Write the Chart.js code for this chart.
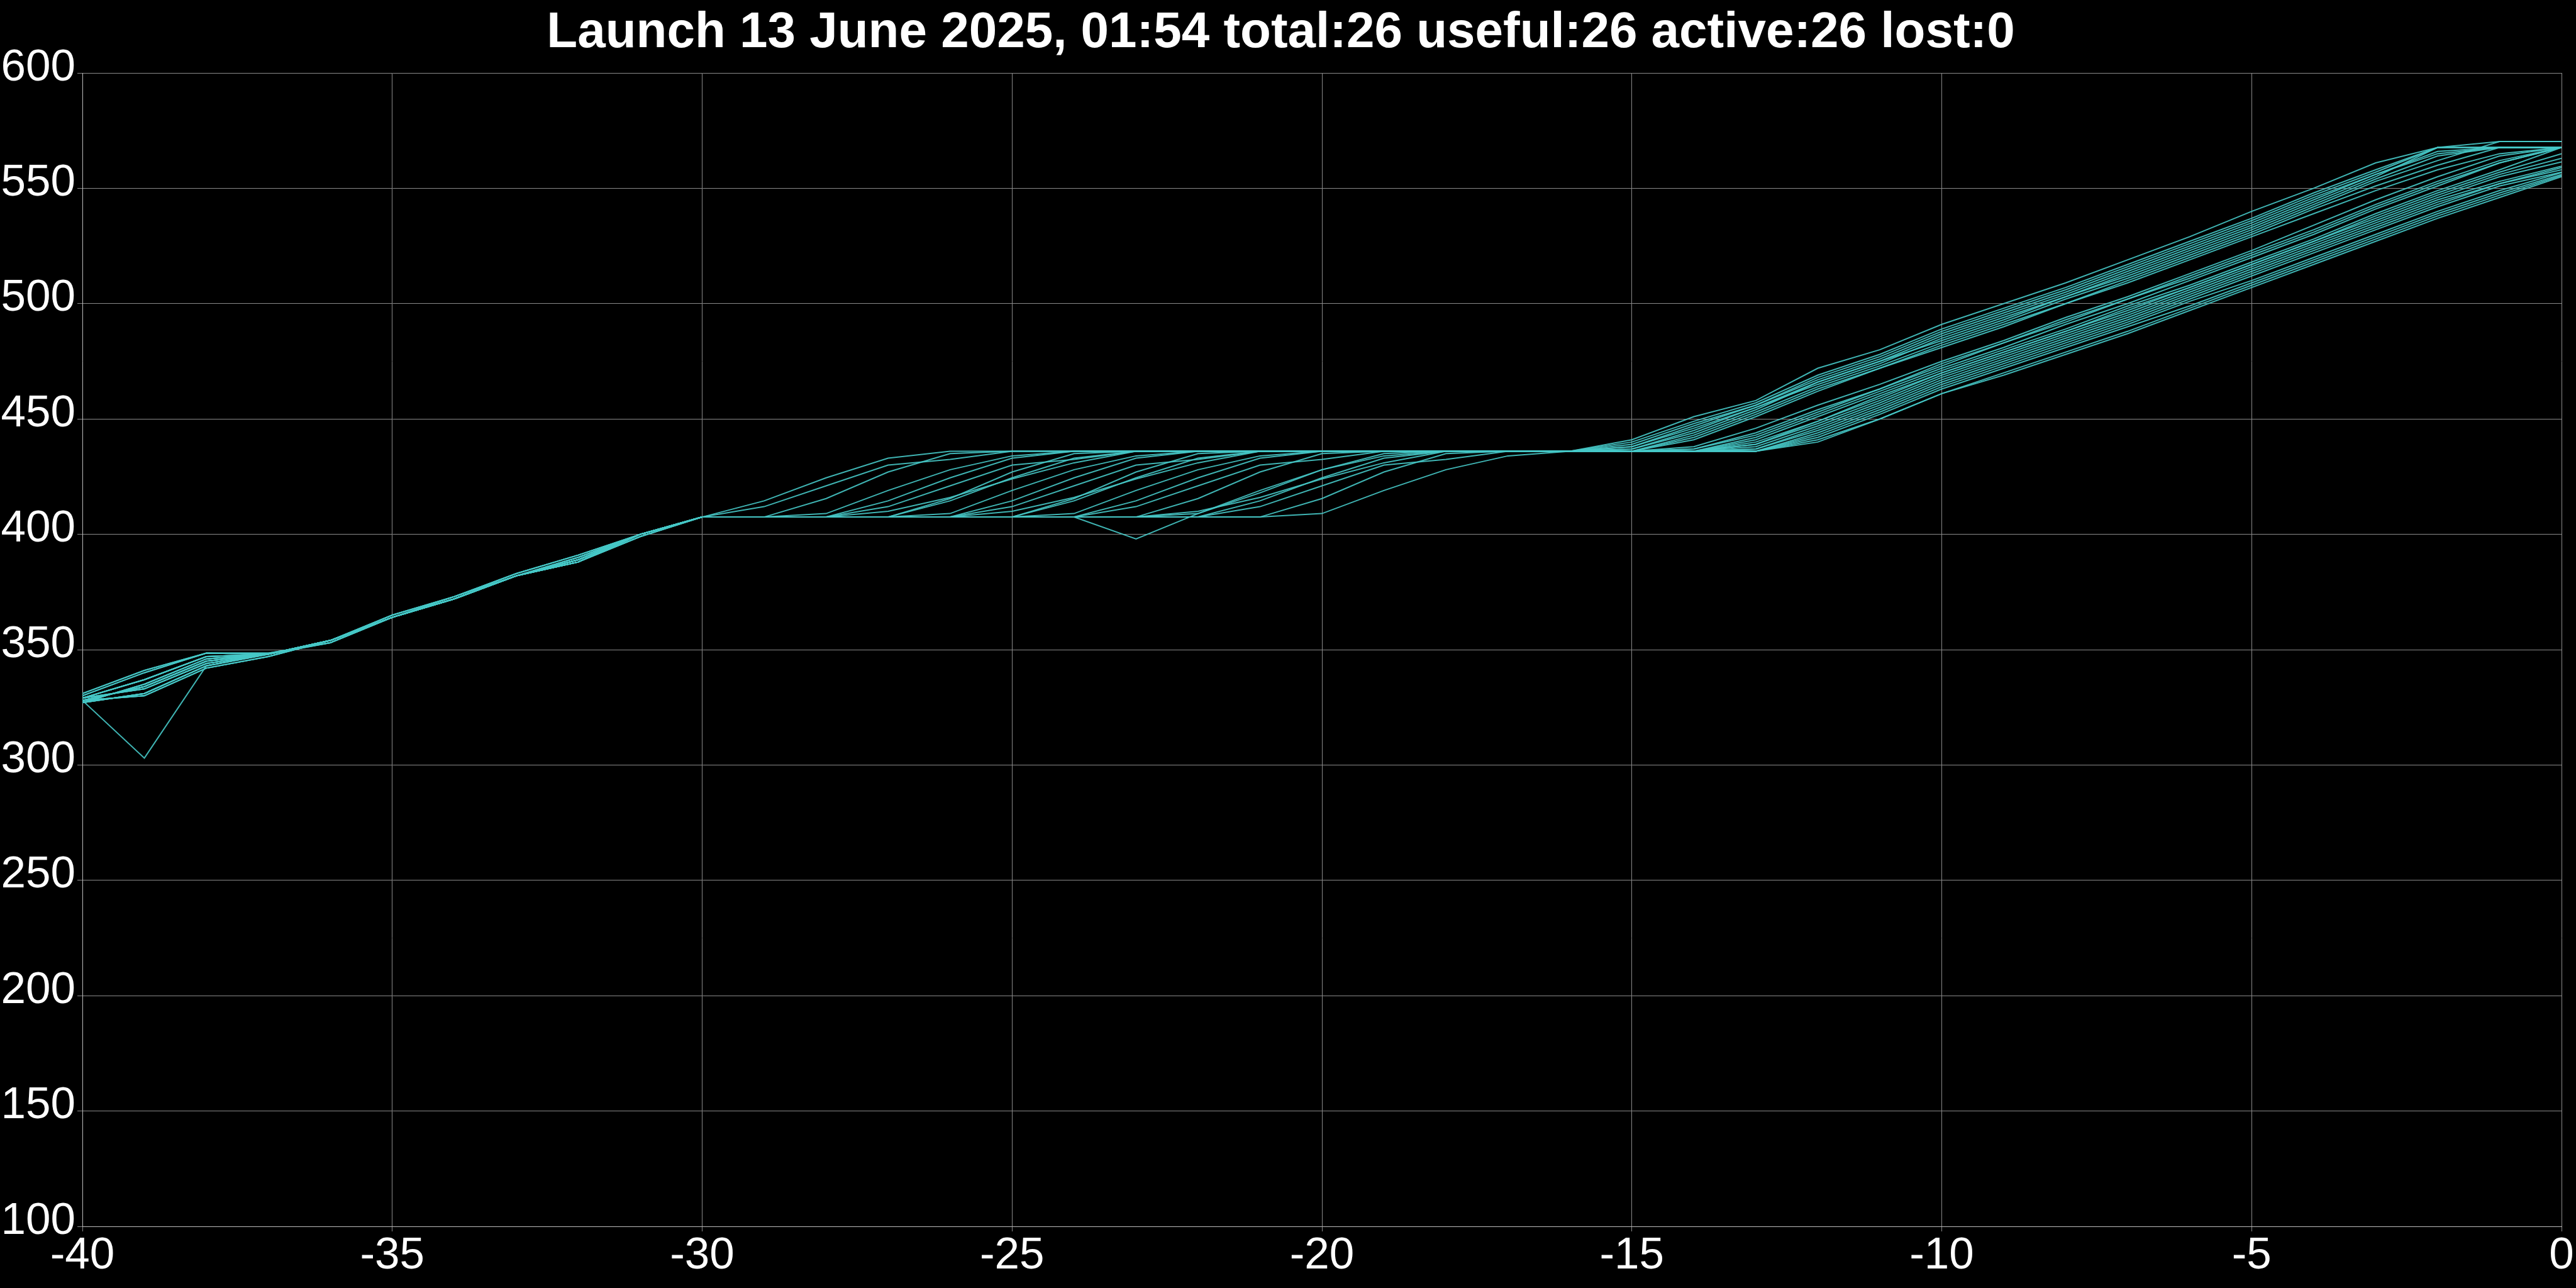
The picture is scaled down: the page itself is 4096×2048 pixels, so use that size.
<!DOCTYPE html>
<html>
<head>
<meta charset="utf-8">
<title>Launch 13 June 2025</title>
<script src="https://cdn.jsdelivr.net/npm/chart.js@4/dist/chart.umd.min.js"></script>
<style>
    html, body { margin: 0; padding: 0; background: #000; }
    canvas { display: block; }
</style>
</head>
<body>
<canvas id="graph" width="4096" height="2048"></canvas>
<script>
"use strict"

const titleText = "Launch 13 June 2025, 01:54 total:26 useful:26 active:26 lost:0";

// seconds before launch
const seconds = [-40, -39, -38, -37, -36, -35, -34, -33, -32, -31, -30, -29, -28, -27, -26, -25, -24, -23, -22, -21,
    -20, -19, -18, -17, -16, -15, -14, -13, -12, -11, -10, -9, -8, -7, -6, -5, -4, -3, -2, -1, 0];

// one track per probe
const track01 = [328, 334, 345, 348, 354, 364, 372, 382, 389, 400,
    407.5, 414.5, 424.5, 433, 436, 436, 436, 436, 436, 436, 436, 436, 436, 436, 436,
    441, 451, 458, 472, 480, 491, 500, 509, 519, 529, 540, 550, 561, 567.7, 570.3, 570.3];
const track02 = [327, 331, 343, 348, 354, 364, 372, 382, 388, 400,
    407.5, 412, 421, 430, 432.5, 436, 436, 436, 436, 436, 436, 436, 436, 436, 436,
    440, 449, 457, 469, 478, 489, 498, 507, 517, 527, 537, 548, 558, 567.7, 567.7, 567.7];
const track03 = [330, 340, 348.5, 348, 353, 364, 373, 382, 389, 400,
    407.5, 407.5, 409, 419, 428, 434, 436, 436, 436, 436, 436, 436, 436, 436, 436,
    438, 447, 456, 467, 476, 487, 496, 505, 515, 525, 535, 546, 556, 565, 567.7, 567.7];
const track04 = [329, 337, 347, 348, 354, 364, 372, 382, 390, 400,
    407.5, 407.5, 415.5, 427, 435, 436, 436, 436, 436, 436, 436, 436, 436, 436, 436,
    437, 445, 455, 465, 474, 485, 494, 503, 513, 523, 533, 544, 555, 567.7, 567.7, 567.7];
const track05 = [331, 341, 348.5, 348.5, 353, 364, 372, 382, 389, 400,
    407.5, 407.5, 407.5, 414.5, 424.5, 433, 436, 436, 436, 436, 436, 436, 436, 436, 436,
    436, 443, 453, 464, 473, 483, 492, 502, 511, 521, 531, 542, 553, 562, 570.3, 570.3];
const track06 = [328, 330, 342, 347, 354, 364, 372, 382, 388, 399,
    407.5, 407.5, 407.5, 410, 416, 424, 431, 436, 436, 436, 436, 436, 436, 436, 436,
    436, 441, 451, 462, 472, 482, 491, 500, 510, 520, 530, 541, 551, 560, 567.7, 567.7];
const track07 = [327, 335, 346, 348, 354, 365, 373, 383, 391, 400,
    407.5, 407.5, 407.5, 412, 421, 430, 432.5, 436, 436, 436, 436, 436, 436, 436, 436,
    436, 442, 452, 463, 472, 481, 490, 500, 509, 519, 529, 539, 549, 558, 565, 567.7];
const track08 = [329, 333, 344, 348, 354, 364, 372, 382, 388, 400,
    407.5, 407.5, 407.5, 407.5, 415.5, 427, 435, 436, 436, 436, 436, 436, 436, 436, 436,
    437, 444, 454, 466, 475, 486, 495, 504, 514, 524, 534, 545, 556, 566, 567.7, 567.7];
const track09 = [328, 334, 345, 348, 354, 364, 372, 382, 389, 400,
    407.5, 407.5, 407.5, 407.5, 409, 419, 428, 434, 436, 436, 436, 436, 436, 436, 436,
    439, 448, 456, 468, 477, 488, 497, 506, 516, 526, 536, 547, 557, 567.7, 567.7, 567.7];
const track10 = [327, 331, 343, 348, 354, 364, 372, 382, 388, 400,
    407.5, 407.5, 407.5, 407.5, 414.5, 424.5, 433, 436, 436, 436, 436, 436, 436, 436, 436,
    438, 446, 455, 466, 475, 484, 493, 503, 512, 522, 532, 543, 554, 564, 567.7, 567.7];
const track11 = [328, 303, 343, 348, 354, 364, 372, 382, 389, 400,
    407.5, 407.5, 407.5, 407.5, 407.5, 412, 421, 430, 432.5, 436, 436, 436, 436, 436, 436,
    436, 438, 446, 456, 465, 475, 484, 494, 503, 513, 523, 534, 545, 555, 564, 567.7];
const track12 = [329, 337, 347, 348, 354, 364, 372, 382, 390, 400,
    407.5, 407.5, 407.5, 407.5, 407.5, 414.5, 424.5, 433, 436, 436, 436, 436, 436, 436, 436,
    436, 437, 444, 454, 463, 473, 483, 492, 502, 512, 522, 532, 543, 553, 562, 567.7];
const track13 = [330, 340, 348.5, 348, 353, 364, 373, 382, 389, 400,
    407.5, 407.5, 407.5, 407.5, 407.5, 410, 416, 424, 431, 436, 436, 436, 436, 436, 436,
    436, 436, 442, 452, 462, 472, 481, 491, 500, 510, 520, 530, 541, 551, 561, 567.7];
const track14 = [329, 333, 344, 348, 354, 364, 372, 382, 388, 400,
    407.5, 407.5, 407.5, 407.5, 407.5, 407.5, 415.5, 427, 435, 436, 436, 436, 436, 436, 436,
    436, 436, 441, 451, 461, 471, 480, 489, 499, 508, 518, 528, 539, 549, 558, 567.7];
const track15 = [328, 330, 342, 347, 354, 364, 372, 382, 388, 399,
    407.5, 407.5, 407.5, 407.5, 407.5, 407.5, 409, 419, 428, 434, 436, 436, 436, 436, 436,
    436, 436, 440, 449, 459, 470, 479, 488, 497, 507, 517, 527, 537, 547, 556, 563];
const track16 = [327, 335, 346, 348, 354, 365, 373, 383, 391, 400,
    407.5, 407.5, 407.5, 407.5, 407.5, 407.5, 414.5, 424.5, 433, 436, 436, 436, 436, 436, 436,
    436, 436, 439, 448, 458, 469, 478, 487, 496, 506, 516, 526, 536, 546, 555, 561.4];
const track17 = [328, 334, 345, 348, 354, 364, 372, 382, 389, 400,
    407.5, 407.5, 407.5, 407.5, 407.5, 407.5, 407.5, 398, 409, 418, 428, 435, 436, 436, 436,
    436, 436, 438, 447, 457, 468, 477, 486, 495, 505, 515, 525, 535, 545, 553, 559.6];
const track18 = [327, 331, 343, 348, 354, 364, 372, 382, 388, 400,
    407.5, 407.5, 407.5, 407.5, 407.5, 407.5, 407.5, 412, 421, 430, 432.5, 436, 436, 436, 436,
    436, 436, 437, 446, 456, 467, 476, 485, 494, 504, 514, 524, 534, 544, 552, 558];
const track19 = [329, 337, 347, 348, 354, 364, 372, 382, 390, 400,
    407.5, 407.5, 407.5, 407.5, 407.5, 407.5, 407.5, 414.5, 424.5, 433, 436, 436, 436, 436, 436,
    436, 436, 436, 444, 454, 465, 474, 483, 492, 502, 512, 522, 532, 542, 551, 557];
const track20 = [331, 341, 348.5, 348.5, 353, 364, 372, 382, 389, 400,
    407.5, 407.5, 407.5, 407.5, 407.5, 407.5, 407.5, 407.5, 410, 416, 424, 431, 436, 436, 436,
    436, 436, 436, 443, 453, 464, 473, 482, 491, 501, 510, 520, 530, 540, 549, 556.8];
const track21 = [329, 333, 344, 348, 354, 364, 372, 382, 388, 400,
    407.5, 407.5, 407.5, 407.5, 407.5, 407.5, 407.5, 407.5, 415.5, 427, 435, 436, 436, 436, 436,
    436, 436, 436, 442, 452, 463, 472, 481, 490, 499, 509, 519, 529, 539, 548, 556];
const track22 = [328, 330, 342, 347, 354, 364, 372, 382, 388, 399,
    407.5, 407.5, 407.5, 407.5, 407.5, 407.5, 407.5, 407.5, 409, 419, 428, 434, 436, 436, 436,
    436, 436, 436, 441, 450, 461, 470, 479, 488, 498, 508, 518, 528, 538, 547, 555.5];
const track23 = [328, 334, 345, 348, 354, 364, 372, 382, 389, 400,
    407.5, 407.5, 407.5, 407.5, 407.5, 407.5, 407.5, 407.5, 407.5, 414.5, 424.5, 433, 436, 436, 436,
    436, 436, 436, 440, 450, 461, 469, 478, 487, 497, 507, 517, 527, 537, 546, 555];
const track24 = [327, 331, 343, 348, 354, 364, 372, 382, 388, 400,
    407.5, 407.5, 407.5, 407.5, 407.5, 407.5, 407.5, 407.5, 407.5, 412, 421, 430, 432.5, 436, 436,
    436, 437, 443, 453, 463, 474, 483, 493, 502, 511, 521, 531, 542, 552, 561, 567.7];
const track25 = [327, 335, 346, 348, 354, 365, 373, 383, 391, 400,
    407.5, 407.5, 407.5, 407.5, 407.5, 407.5, 407.5, 407.5, 407.5, 407.5, 415.5, 427, 435, 436, 436,
    436, 436, 439, 449, 460, 470, 479, 488, 498, 507, 517, 527, 538, 548, 557, 565];
const track26 = [329, 337, 347, 348, 354, 364, 372, 382, 390, 400,
    407.5, 407.5, 407.5, 407.5, 407.5, 407.5, 407.5, 407.5, 407.5, 407.5, 409, 419, 428, 434, 436,
    436, 436, 437, 445, 455, 466, 475, 484, 493, 503, 513, 523, 533, 543, 552, 559];

const tracks = [track01, track02, track03, track04, track05, track06, track07, track08, track09, track10,
    track11, track12, track13, track14, track15, track16, track17, track18, track19, track20,
    track21, track22, track23, track24, track25, track26];

const fontFamily = "'Liberation Sans', Arial, Helvetica, sans-serif";
Chart.defaults.font.family = fontFamily;

let datasets = tracks.map(function (values, n) {
    return {
        label : "track " + (n + 1),
        data : values.map(function (v, i) { return { x : seconds[i], y : v }; }),
        borderColor : "rgba(70, 200, 198, 0.9)",
        borderWidth : 2,
        pointRadius : 0,
        tension : 0,
        fill : false
    };
});

new Chart(document.getElementById("graph"), {
    type : "line",
    data : { datasets : datasets },
    options : {
        responsive : false,
        animation : false,
        devicePixelRatio : 1,
        layout : { padding : { top : 0, right : 23, bottom : 0, left : 0 } },
        plugins : {
            legend : { display : false },
            tooltip : { enabled : false },
            title : {
                display : true,
                text : titleText,
                color : "#ffffff",
                font : { size : 80, weight : "bold", lineHeight : 1.2 },
                padding : { top : 5, bottom : 15 }
            }
        },
        scales : {
            x : {
                type : "linear",
                min : -40,
                max : 0,
                ticks : {
                    stepSize : 5,
                    color : "#ffffff",
                    font : { size : 71 },
                    padding : -3,
                    maxRotation : 0,
                    autoSkip : false
                },
                grid : { color : "#8a8a8a", lineWidth : 1, tickLength : 8 },
                border : { color : "#bdbdbd", width : 1 },
                afterFit : function (scale) { scale.height = 98; }
            },
            y : {
                type : "linear",
                min : 100,
                max : 600,
                ticks : {
                    stepSize : 50,
                    color : "#ffffff",
                    font : { size : 71 },
                    padding : 3,
                    labelOffset : -8
                },
                grid : { color : "#8a8a8a", lineWidth : 1, tickLength : 8 },
                border : { color : "#bdbdbd", width : 1 },
                afterFit : function (scale) { scale.width = 131; }
            }
        }
    }
});
</script>
</body>
</html>
